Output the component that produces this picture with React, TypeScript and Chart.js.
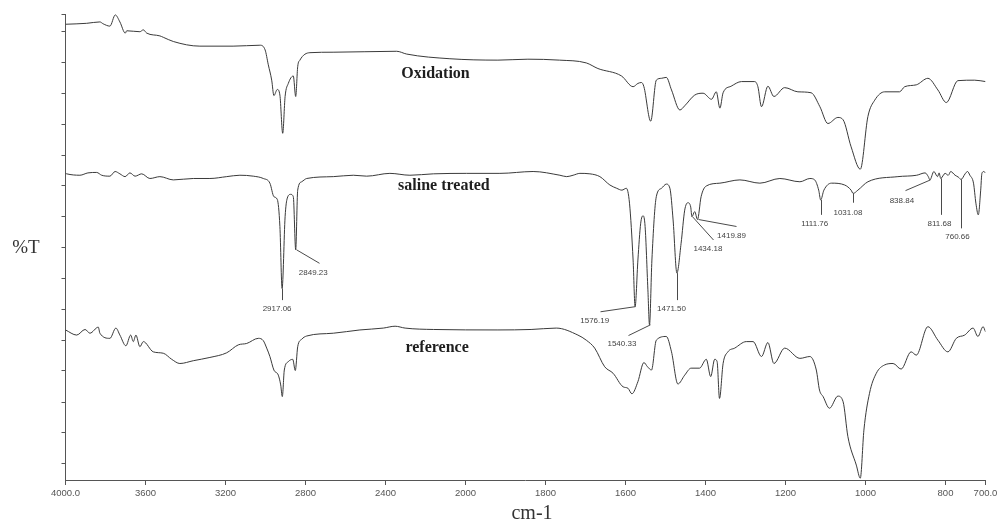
import React, { useEffect, useRef } from "react";
import { Chart, registerables } from "chart.js";

Chart.register(...registerables);

// ---------- data (wavenumber in cm-1, transmittance in arbitrary %T units) ----------
const oxidationWavenumber = [
  4000, 3894, 3828, 3812, 3778, 3751, 3728, 3701, 3694, 3628,
  3611, 3594, 3528, 3511, 3461, 3328, 3162, 3028, 3002, 2986,
  2969, 2958, 2941, 2928, 2914, 2902, 2886, 2861, 2849, 2839,
  2828, 2778, 2662, 2344, 2294, 2078, 1919, 1844, 1765, 1698,
  1669, 1610, 1581, 1569, 1560, 1554, 1537, 1523, 1510, 1498,
  1485, 1464, 1452, 1427, 1406, 1385, 1373, 1364, 1356, 1336,
  1310, 1277, 1269, 1260, 1244, 1229, 1202, 1169, 1136, 1114,
  1094, 1069, 1056, 1036, 1013, 994, 977, 952, 915, 902,
  873, 844, 819, 798, 769, 727, 700,
];
const oxidationT = [
  97.8, 98.0, 98.3, 97.9, 97.4, 99.8, 98.3, 95.9, 96.4, 96.2,
  96.6, 95.9, 95.3, 95.0, 94.1, 93.1, 93.1, 93.3, 92.3, 89.1,
  85.8, 82.5, 83.8, 82.6, 74.4, 82.3, 85.1, 86.7, 82.3, 88.7,
  90.1, 91.7, 91.8, 92.0, 91.4, 90.4, 90.1, 90.3, 90.1, 89.5,
  88.3, 86.7, 84.4, 85.1, 85.3, 84.4, 77.0, 85.8, 86.2, 86.4,
  83.7, 79.4, 80.3, 82.6, 83.0, 81.7, 83.3, 79.8, 83.1, 84.5,
  85.5, 85.5, 84.4, 80.1, 84.5, 82.3, 84.2, 83.3, 83.1, 80.1,
  76.5, 77.8, 77.3, 71.5, 66.7, 78.0, 81.5, 83.3, 83.3, 84.4,
  84.8, 86.2, 83.7, 81.0, 85.7, 85.8, 85.5,
];

const salineWavenumber = [
  4000, 3994, 3928, 3888, 3844, 3819, 3778, 3752, 3728, 3702,
  3678, 3652, 3619, 3578, 3528, 3461, 3361, 3278, 3194, 3128,
  3061, 3011, 2978, 2958, 2941, 2928, 2917, 2902, 2891, 2874,
  2861, 2849, 2839, 2819, 2794, 2661, 2561, 2494, 2378, 2278,
  2161, 1997, 1914, 1831, 1764, 1747, 1731, 1714, 1689, 1664,
  1639, 1622, 1609, 1598, 1590, 1581, 1576, 1569, 1562, 1556,
  1551, 1544, 1540, 1534, 1523, 1510, 1498, 1489, 1481, 1471.5,
  1461, 1452, 1444, 1437, 1434, 1427, 1420, 1411, 1398, 1364,
  1314, 1264, 1214, 1164, 1139, 1127, 1117, 1112, 1104, 1085,
  1052, 1036, 1031, 1019, 994, 919, 872, 851, 843, 839,
  829, 820, 816, 812, 801, 793, 787, 776, 768, 761,
  751, 745, 739, 730, 724, 718, 712, 709, 704, 700,
];
const salineT = [
  65.8, 65.7, 65.4, 65.9, 66.0, 65.4, 65.2, 66.2, 65.7, 65.1,
  65.9, 65.2, 65.7, 64.7, 65.1, 64.4, 64.7, 64.7, 65.1, 65.4,
  65.2, 64.7, 63.7, 60.8, 60.2, 54.4, 41.1, 56.5, 60.5, 61.3,
  60.8, 49.4, 62.2, 64.0, 64.7, 65.1, 65.4, 65.2, 65.8, 65.4,
  65.7, 65.8, 65.8, 66.2, 65.4, 65.1, 65.4, 65.8, 65.7, 65.1,
  63.3, 62.6, 62.2, 62.6, 59.4, 47.2, 37.2, 47.2, 55.1, 56.7,
  54.4, 40.8, 33.3, 47.2, 60.8, 62.6, 63.5, 62.6, 55.8, 44.4,
  50.8, 57.9, 59.5, 58.6, 56.5, 57.6, 55.9, 60.8, 63.1, 63.7,
  64.4, 63.7, 64.7, 64.0, 64.7, 64.4, 62.2, 60.1, 62.2, 63.7,
  63.3, 62.2, 61.5, 62.2, 64.0, 65.1, 65.4, 65.9, 65.1, 64.4,
  66.2, 65.1, 65.9, 64.7, 65.8, 65.4, 66.2, 65.4, 65.0, 64.5,
  65.7, 66.2, 65.4, 63.7, 59.4, 56.9, 62.2, 65.8, 66.2, 65.9,
];

const referenceWavenumber = [
  4000, 3944, 3902, 3878, 3836, 3828, 3778, 3748, 3728, 3698,
  3674, 3661, 3648, 3628, 3611, 3561, 3511, 3469, 3428, 3361,
  3278, 3194, 3136, 3094, 3036, 3011, 2994, 2978, 2958, 2936,
  2924, 2916, 2906, 2886, 2864, 2851, 2839, 2819, 2794, 2661,
  2528, 2411, 2352, 2302, 2161, 1919, 1836, 1773, 1719, 1698,
  1677, 1652, 1631, 1606, 1594, 1584, 1569, 1554, 1545, 1535,
  1523, 1498, 1485, 1469, 1452, 1436, 1415, 1398, 1387, 1377,
  1371, 1365, 1356, 1344, 1327, 1298, 1281, 1260, 1244, 1229,
  1202, 1164, 1139, 1123, 1115, 1106, 1090, 1069, 1056, 1044,
  1023, 1013, 1004, 990, 973, 952, 931, 911, 886, 873,
  844, 819, 794, 773, 752, 731, 719, 706, 700,
];
const referenceT = [
  32.2, 31.1, 32.3, 31.5, 32.8, 31.5, 30.4, 32.6, 31.1, 28.8,
  31.1, 29.7, 31.1, 28.6, 29.7, 27.5, 27.2, 25.9, 25.0, 25.6,
  26.3, 27.3, 29.0, 29.3, 30.4, 29.9, 28.3, 26.5, 23.6, 22.5,
  20.4, 17.9, 23.6, 25.4, 25.9, 23.5, 28.6, 30.2, 30.9, 31.5,
  32.2, 32.6, 33.0, 32.6, 32.3, 32.2, 32.3, 32.6, 31.1, 30.0,
  28.3, 24.3, 22.9, 20.0, 19.7, 18.5, 21.1, 25.2, 24.3, 23.6,
  30.0, 30.8, 27.5, 20.6, 22.5, 24.0, 24.0, 25.9, 22.2, 25.9,
  25.4, 17.5, 25.0, 27.5, 28.3, 29.7, 29.7, 26.5, 29.5, 25.0,
  28.3, 26.1, 26.5, 23.6, 19.3, 17.9, 15.4, 18.0, 16.8, 9.3,
  3.2, 0.4, 10.7, 18.6, 22.9, 24.7, 25.0, 23.8, 27.5, 26.8,
  32.9, 30.0, 27.5, 30.4, 31.1, 32.6, 30.8, 32.9, 31.8,
];

const seriesNames = ["Oxidation", "saline treated", "reference"];

const xTickWavenumbers = [4000, 3600, 3200, 2800, 2400, 2000, 1800, 1600, 1400, 1200, 1000, 800, 700];
const xTickLabels = ["4000.0", "3600", "3200", "2800", "2400", "2000", "1800", "1600", "1400", "1200", "1000", "800", "700.0"];
const yTickValues = [3.5, 10.1, 16.7, 23.4, 30.0, 36.6, 43.2, 49.8, 56.5, 63.1, 69.7, 76.3, 82.9, 89.6, 96.2, 100];

// peak labels of the saline treated spectrum
const peakLabels = ["2917.06", "2849.23", "1576.19", "1540.33", "1471.50", "1434.18", "1419.89", "1111.76", "1031.08", "838.84", "811.68", "760.66"];
const peakWavenumbers = [2917, 2849, 1576, 1540, 1471.5, 1434, 1420, 1112, 1031, 839, 812, 761];
const peakT = [41.1, 49.4, 37.2, 33.3, 44.4, 56.5, 55.9, 60.1, 61.5, 64.4, 64.7, 64.5];

// ---------- layout (positions of leader-line ends and label centres, in axis units) ----------
const peakLabelLayout = [
  { lineW: 2917, lineT: 38.6, textW: 2942, textT: 36.7 },
  { lineW: 2731, lineT: 46.5, textW: 2761, textT: 44.5 },
  { lineW: 1664, lineT: 36.1, textW: 1677, textT: 34.2 },
  { lineW: 1594, lineT: 31.0, textW: 1609, textT: 29.2 },
  { lineW: 1471.5, lineT: 38.6, textW: 1485, textT: 36.7 },
  { lineW: 1381, lineT: 51.5, textW: 1394, textT: 49.7 },
  { lineW: 1323, lineT: 54.4, textW: 1335, textT: 52.4 },
  { lineW: 1112, lineT: 56.9, textW: 1127, textT: 54.9 },
  { lineW: 1031, lineT: 59.5, textW: 1044, textT: 57.4 },
  { lineW: 901, lineT: 62.1, textW: 909, textT: 59.9 },
  { lineW: 812, lineT: 56.9, textW: 815, textT: 54.9 },
  { lineW: 761, lineT: 54.0, textW: 770, textT: 52.2 },
];
const seriesLabelLayout = [
  { w: 2150, t: 87.1 },
  { w: 2108, t: 63.1 },
  { w: 2142, t: 28.3 },
];

// split wavenumber axis: 4000-2000 compressed (half scale), 2000-700 expanded
function toU(w: number): number {
  return w >= 2000 ? (4000 - w) / 2 : 1000 + (2000 - w);
}

function toPoints(ws: number[], ts: number[]) {
  const n = Math.min(ws.length, ts.length);
  const pts: { x: number; y: number }[] = [];
  for (let i = 0; i < n; i++) pts.push({ x: toU(ws[i]), y: ts[i] });
  return pts;
}

const TRACE = "#3a3a3a";
const AXIS = "#555555";

const textPlugin = {
  id: "ftirText",
  afterDraw(chart: any) {
    const { ctx, chartArea } = chart;
    const x = chart.scales.x;
    const y = chart.scales.y;
    const px = (w: number) => x.getPixelForValue(toU(w));
    const py = (t: number) => y.getPixelForValue(t);
    ctx.save();

    // leader lines + peak labels
    ctx.strokeStyle = "#4a4a4a";
    ctx.lineWidth = 1;
    ctx.fillStyle = "#444444";
    ctx.font = '8px "Liberation Sans", Arial, sans-serif';
    ctx.textAlign = "center";
    ctx.textBaseline = "middle";
    peakLabels.forEach((label, i) => {
      const L = peakLabelLayout[i];
      ctx.beginPath();
      ctx.moveTo(Math.round(px(peakWavenumbers[i])) + 0.5, py(peakT[i]));
      ctx.lineTo(Math.round(px(L.lineW)) + 0.5, py(L.lineT));
      ctx.stroke();
      ctx.fillText(label, px(L.textW), py(L.textT));
    });

    // series names
    ctx.fillStyle = "#1e1e1e";
    ctx.font = 'bold 16px "Liberation Serif", "Times New Roman", serif';
    seriesNames.forEach((name, i) => {
      const L = seriesLabelLayout[i];
      ctx.fillText(name, px(L.w), py(L.t));
    });

    // axis titles
    ctx.fillStyle = "#333333";
    ctx.font = '19px "Liberation Serif", "Times New Roman", serif';
    ctx.fillText("%T", 26, (chartArea.top + chartArea.bottom) / 2 + 1);
    ctx.font = '20px "Liberation Serif", "Times New Roman", serif';
    ctx.textBaseline = "alphabetic";
    ctx.fillText("cm-1", 532, 519);
    ctx.restore();
  },
};

export default function App() {
  const canvasRef = useRef<HTMLCanvasElement | null>(null);

  useEffect(() => {
    const canvas = canvasRef.current;
    if (!canvas) return;
    const ds = (ws: number[], ts: number[]) => ({
      data: toPoints(ws, ts),
      borderColor: TRACE,
      borderWidth: 1,
      pointRadius: 0,
      cubicInterpolationMode: "monotone",
      fill: false,
    });
    const chart = new Chart(canvas, {
      type: "line",
      data: {
        datasets: [
          { label: seriesNames[0], ...ds(oxidationWavenumber, oxidationT) },
          { label: seriesNames[1], ...ds(salineWavenumber, salineT) },
          { label: seriesNames[2], ...ds(referenceWavenumber, referenceT) },
        ],
      },
      options: {
        responsive: false,
        animation: false,
        events: [],
        layout: { padding: { left: 0, right: 12.5, top: 14, bottom: 0 } },
        plugins: { legend: { display: false }, tooltip: { enabled: false }, title: { display: false } },
        scales: {
          x: {
            type: "linear",
            min: 0,
            max: 2300,
            afterBuildTicks: (scale: any) => {
              scale.ticks = xTickWavenumbers.map((w) => ({ value: toU(w) }));
            },
            afterFit: (scale: any) => {
              scale.height = 41;
              scale.paddingLeft = 0;
              scale.paddingRight = 0;
            },
            ticks: {
              autoSkip: false,
              maxRotation: 0,
              minRotation: 0,
              padding: 3,
              color: "#555555",
              font: { family: '"Liberation Sans", Arial, sans-serif', size: 9.5 },
              callback: (_v: any, i: number) => xTickLabels[i],
            },
            grid: { drawOnChartArea: false, drawTicks: true, tickLength: 5, color: AXIS },
            border: { display: true, color: AXIS, width: 1 },
          },
          y: {
            type: "linear",
            min: 0,
            max: 100,
            afterBuildTicks: (scale: any) => {
              scale.ticks = yTickValues.map((v) => ({ value: v }));
            },
            afterFit: (scale: any) => {
              scale.width = 65.5;
              scale.paddingTop = 0;
              scale.paddingBottom = 0;
            },
            ticks: { display: false },
            grid: { drawOnChartArea: false, drawTicks: true, tickLength: 4, color: AXIS },
            border: { display: true, color: AXIS, width: 1 },
          },
        },
      },
      plugins: [textPlugin],
    } as any);
    return () => chart.destroy();
  }, []);

  return (
    <div style={{ position: "absolute", left: 0, top: 0, width: 998, height: 521, background: "#fff" }}>
      <canvas ref={canvasRef} width={998} height={521} style={{ display: "block" }} />
    </div>
  );
}
